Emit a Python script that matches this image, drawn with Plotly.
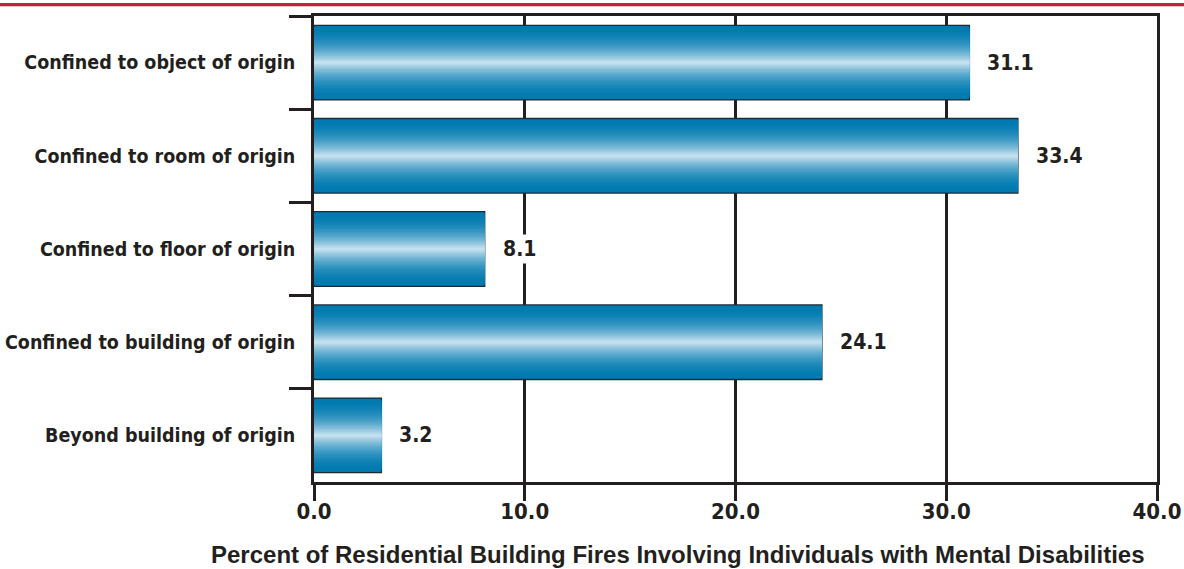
import plotly.graph_objects as go

categories = [
    "Confined to object of origin",
    "Confined to room of origin",
    "Confined to floor of origin",
    "Confined to building of origin",
    "Beyond building of origin",
]
values = [31.1, 33.4, 8.1, 24.1, 3.2]
tick_vals = [0, 10, 20, 30, 40]
tick_text = ["0.0", "10.0", "20.0", "30.0", "40.0"]
x_title = "Percent of Residential Building Fires Involving Individuals with Mental Disabilities"

LABEL_FONT = "Liberation Sans Narrow, DejaVu Sans Condensed, Arial Narrow, sans-serif"
TITLE_FONT = "Liberation Sans, Arial, sans-serif"
INK = "#231f20"

edge = (0, 122, 176)
mid = (196, 224, 238)


def mix(t):
    return "rgb(%d,%d,%d)" % tuple(round(a + (b - a) * t) for a, b in zip(edge, mid))


fig = go.Figure()
N = 28
full_w = 0.8
for k in range(N):
    t = k / (N - 1)
    f = t ** 2.0
    w = full_w * (1 - k / N)
    fig.add_trace(go.Bar(
        y=categories, x=values, orientation="h", width=w,
        marker=dict(color=mix(f),
                    line=dict(color="#1c2b36" if k == 0 else mix(f), width=1.3 if k == 0 else 0)),
        hoverinfo="skip", showlegend=False,
    ))

for c, v in zip(categories, values):
    fig.add_annotation(x=v, y=c, text="%.1f" % v, showarrow=False, xanchor="left",
                       xshift=15, bgcolor="white", borderpad=2,
                       font=dict(family=LABEL_FONT, size=21, color=INK, weight="bold"))

PH = 466
fig.add_annotation(xref="paper", yref="paper", x=(678 - 314) / 843, y=-57 / PH,
                   yanchor="top", xanchor="center", text=x_title, showarrow=False,
                   font=dict(family=TITLE_FONT, size=24, color=INK, weight="bold"))

fig.add_shape(type="line", xref="paper", yref="paper", x0=-1, x1=2,
              y0=1 + 11.5 / PH, y1=1 + 11.5 / PH, line=dict(color="#c8203f", width=3))
fig.add_shape(type="line", xref="paper", yref="paper", x0=-1, x1=2,
              y0=1 + 9.5 / PH, y1=1 + 9.5 / PH, line=dict(color="#efb8c2", width=1))

fig.update_layout(
    width=1184, height=569,
    margin=dict(l=314, r=27, t=16, b=87, autoexpand=False),
    paper_bgcolor="white", plot_bgcolor="white",
    barmode="overlay", bargap=0.2,
    xaxis=dict(range=[0, 40], tickvals=tick_vals, ticktext=tick_text, automargin=False,
               showgrid=True, gridcolor=INK, gridwidth=2.5,
               showline=True, linecolor=INK, linewidth=2.5, mirror=True,
               ticks="outside", ticklen=16, tickwidth=2.5, tickcolor=INK,
               ticklabelstandoff=-8,
               tickfont=dict(family=LABEL_FONT, size=22, color=INK, weight="bold"),
               zeroline=False, fixedrange=True),
    yaxis=dict(categoryorder="array", categoryarray=categories, autorange="reversed",
               automargin=False,
               showline=True, linecolor=INK, linewidth=2.5, mirror=True,
               ticks="outside", tickson="boundaries", ticklen=22, tickwidth=2.5, tickcolor=INK,
               tickfont=dict(family=LABEL_FONT, size=19.5, color=INK, weight="bold"),
               ticklabelstandoff=12, showgrid=False, fixedrange=True),
)

fig.write_html("out.html", config={"displayModeBar": False},
               post_script="document.body.style.margin='0';document.body.style.overflow='hidden';")
